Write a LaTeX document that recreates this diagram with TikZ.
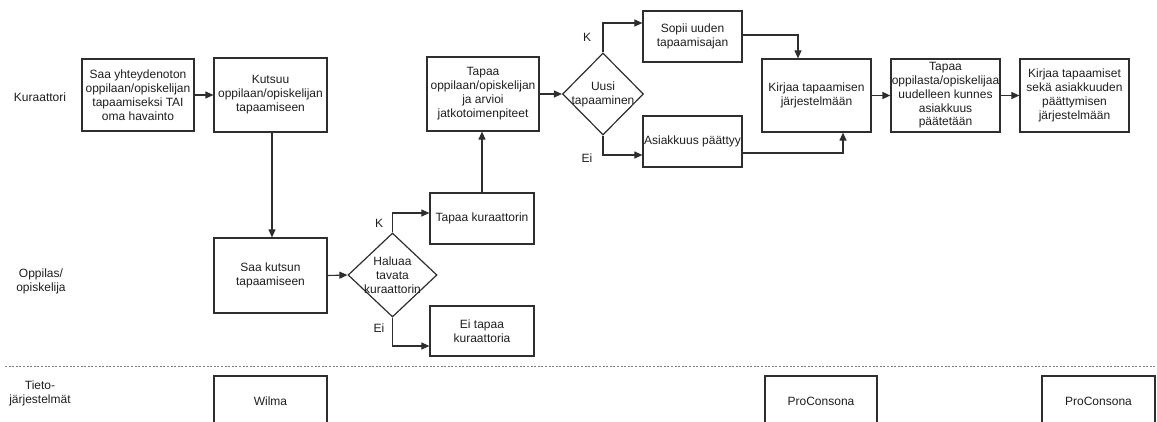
\documentclass[tikz,border=0pt]{standalone}
\usepackage{fontspec}
\setmainfont{Liberation Sans}
\usetikzlibrary{shapes.geometric,arrows.meta}
\definecolor{ink}{HTML}{1E1E1E}
\definecolor{edge}{HTML}{2E2E2E}
\begin{document}
\begin{tikzpicture}[x=1pt,y=-1pt,
  font=\fontsize{12}{14}\selectfont,
  every node/.style={text=ink},
  box/.style={draw=edge,line width=1.2pt,rectangle,inner sep=0pt,align=center},
  dia/.style={draw=edge,line width=1.2pt,diamond,inner sep=0pt},
  lane/.style={align=center},
  yn/.style={inner sep=0pt},
  flow/.style={draw=edge,line width=1.1pt,-{Triangle[length=8pt,width=7pt]}},
  sep/.style={draw=gray,line width=0.9pt,dash pattern=on 2pt off 1.6pt}]
\useasboundingbox (0,0) rectangle (1157,421);
\clip (0,0) rectangle (1157,421);

% lane titles
\node[lane] (lk) at (40,97) {Kuraattori};
\node[lane] (lo) at (41,281) {Oppilas/\\opiskelija};
\node[lane] (lt) at (40,393) {Tieto-\\järjestelmät};

% lane separator
\coordinate (s1) at (5,366);
\coordinate (s2) at (1157,366);
\draw[sep] (s1) -- (s2);

% counsellor lane
\node[box,minimum width=112,minimum height=72] (a) at (138,95)
  {Saa yhteydenoton\\oppilaan/opiskelijan\\tapaamiseksi TAI\\oma havainto};
\node[box,minimum width=113,minimum height=74] (b) at (270.5,95)
  {Kutsuu\\oppilaan/opiskelijan\\tapaamiseen};
\node[box,minimum width=112,minimum height=74] (g) at (483,94)
  {Tapaa\\oppilaan/opiskelijan\\ja arvioi\\jatkotoimenpiteet};
\node[dia,minimum width=81,minimum height=82,
  label={[align=center,text=ink]center:Uusi\\tapaaminen}] (d2) at (603,94) {};
\node[box,minimum width=99,minimum height=51] (h) at (692.5,36.5)
  {Sopii uuden\\tapaamisajan};
\node[box,minimum width=99,minimum height=51] (i) at (692.5,141.5)
  {Asiakkuus päättyy};
\node[box,minimum width=109,minimum height=73] (j) at (816.5,95.5)
  {Kirjaa tapaamisen\\järjestelmään};
\node[box,minimum width=109,minimum height=73,
  font=\fontsize{12}{13.8}\selectfont] (k) at (945.5,95.5)
  {Tapaa\\oppilasta/opiskelijaa\\uudelleen kunnes\\asiakkuus\\päätetään};
\node[box,minimum width=109,minimum height=73] (l) at (1074.5,95.5)
  {Kirjaa tapaamiset\\sekä asiakkuuden\\päättymisen\\järjestelmään};

% student lane
\node[box,minimum width=113,minimum height=75] (c) at (270.5,275.5)
  {Saa kutsun\\tapaamiseen};
\node[dia,minimum width=89,minimum height=84,
  label={[align=center,text=ink]center:Haluaa\\tavata\\kuraattorin}] (d1) at (392.5,275) {};
\node[box,minimum width=104,minimum height=51] (e) at (482,218.5)
  {Tapaa kuraattorin};
\node[box,minimum width=104,minimum height=50] (f) at (482,331)
  {Ei tapaa\\kuraattoria};

% information systems lane (boxes run past the lower edge)
\node[box,minimum width=113,minimum height=50] (w) at (270.5,401) {Wilma};
\node[box,minimum width=112,minimum height=50] (p1) at (821,401) {ProConsona};
\node[box,minimum width=113,minimum height=50] (p2) at (1098.5,401) {ProConsona};

% decision labels
\node[yn] (k1) at (379,223) {K};
\node[yn] (e1) at (379,328) {Ei};
\node[yn] (k2) at (587,37) {K};
\node[yn] (e2) at (587,158) {Ei};

% connectors
\draw[flow] (a.east) -- (b.west);
\draw[flow] (b.south -| 272,0) -- (c.north -| 272,0);
\draw[flow] (c.east) -- (d1.west);
\draw[flow] (d1.north) |- ([yshift=5.5pt]e.west);
\draw[flow] (d1.south) |- ([yshift=-15pt]f.west);
\draw[flow] (e.north) -- (g.south -| e.north);
\draw[flow] (g.east) -- (d2.west);
\draw[flow] (d2.north) |- ([yshift=13.5pt]h.west);
\draw[flow] (d2.south) |- ([yshift=-13.5pt]i.west);
\draw[flow] ([yshift=1.5pt]h.east) -| ([xshift=-18.5pt]j.north);
\draw[flow] ([yshift=-11.5pt]i.east) -| ([xshift=26.5pt]j.south);
\draw[flow,line width=1.6pt] (j.east) -- (k.west);
\draw[flow] (k.east) -- (l.west);
\end{tikzpicture}
\end{document}
